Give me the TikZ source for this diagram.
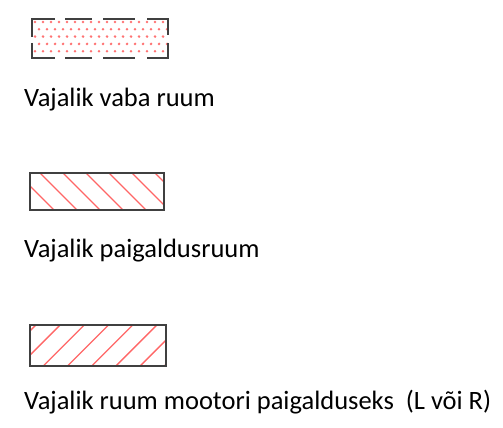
\documentclass[tikz,border=0pt]{standalone}
\usepackage{fontspec}
\setmainfont{Carlito}
\tikzset{
  piir/.style={draw=black!75,line width=1.5pt},
  vabapiir/.style={draw=black!75,line width=2.2pt},
  viirg/.style={draw=red!80,line width=1.3pt,opacity=0.75},
  tapp/.style={fill=red!55},
  selgitus/.style={anchor=base west,inner sep=0pt,font=\fontsize{26.5}{30}\selectfont}
}
\begin{document}
\begin{tikzpicture}[x=1pt,y=-1pt]
	\useasboundingbox (0,0) rectangle (503,428);

	% vajalik vaba ruum
	\foreach \r in {0,...,4}{
		\pgfmathsetmacro{\yy}{22+7.3*\r}
		\pgfmathsetmacro{\nihe}{mod(\r,2)*4}
		\foreach \k in {0,...,16}{
			\fill[tapp] ({35+\nihe+8*\k},\yy) circle (1.4);
		}
	}
	\draw[vabapiir] (55,19) -- (32,19) -- (32,37);
	\draw[vabapiir] (32,43) -- (32,58) -- (55,58);
	\draw[vabapiir] (147,19) -- (168,19) -- (168,35);
	\draw[vabapiir] (168,43) -- (168,58) -- (147,58);
	\draw[vabapiir] (65,19) -- (92,19) (103,19) -- (135,19);
	\draw[vabapiir] (65,58) -- (92,58) (103,58) -- (135,58);
	\node[selgitus] (vaba) at (24,106) {Vajalik vaba ruum};

	% vajalik paigaldusruum
	\begin{scope}
		\clip (30,173) rectangle (164,210);
		\foreach \k in {-3,...,7}{
			\draw[viirg] ({40+23*\k},173) -- ({40+23*\k+37},210);
		}
	\end{scope}
	\draw[piir] (30,173) rectangle (164,210);
	\node[selgitus] (paigaldus) at (24,257) {Vajalik paigaldusruum};

	% vajalik ruum mootori paigalduseks
	\begin{scope}
		\clip (30,325) rectangle (166,366);
		\foreach \k in {-3,...,7}{
			\draw[viirg] ({43.3+24.2*\k},366) -- ({43.3+24.2*\k+41},325);
		}
	\end{scope}
	\draw[piir] (30,325) rectangle (166,366);
	\node[selgitus] (mootor) at (24,409) {Vajalik ruum mootori paigalduseks\ \ (L või R)};
\end{tikzpicture}
\end{document}
